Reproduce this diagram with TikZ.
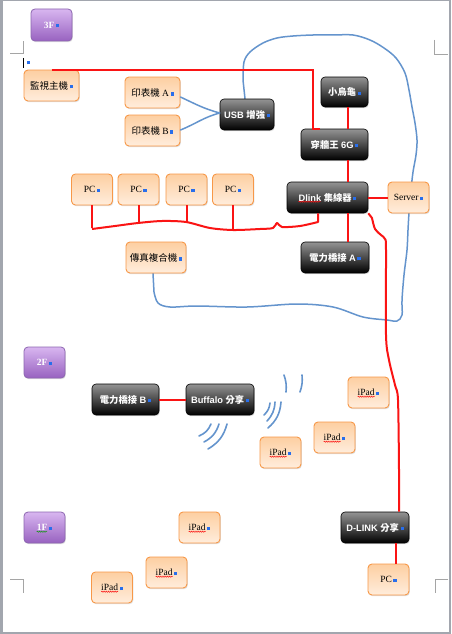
\documentclass[tikz,border=0pt]{standalone}
\usepackage{fontspec}
\setmainfont{Liberation Serif}
\newfontfamily\cjk{Noto Sans CJK TC}
\newfontfamily\lsans{Liberation Sans}
\usetikzlibrary{shadows,decorations.pathmorphing}

\definecolor{pagegray}{RGB}{162,166,174}
\definecolor{cropgray}{RGB}{165,165,165}
\definecolor{linkred}{RGB}{250,20,20}
\definecolor{wireblue}{RGB}{100,148,205}
\definecolor{markblue}{RGB}{40,110,235}
\definecolor{peachtop}{RGB}{253,207,162}
\definecolor{peachbot}{RGB}{255,237,220}
\definecolor{peachline}{RGB}{247,152,72}
\definecolor{lilactop}{RGB}{216,182,240}
\definecolor{lilacbot}{RGB}{152,98,192}
\definecolor{lilacline}{RGB}{140,102,176}
\definecolor{spellgreen}{RGB}{20,150,20}

\newcommand\mk{\hspace{1.5pt}\textcolor{markblue}{\rule[0.6pt]{3.2pt}{3.4pt}}}

\pgfdeclarelayer{paper}
\pgfdeclarelayer{back}
\pgfsetlayers{paper,back,main}

\begin{document}
\begin{tikzpicture}[x=1pt,y=-1pt,
  box/.style={rounded corners=4pt, minimum height=31pt, inner sep=1pt,
    drop shadow={shadow xshift=0.8pt, shadow yshift=-1.2pt, opacity=0.25}},
  peach/.style={box, draw=peachline, line width=0.9pt, top color=peachtop,
    bottom color=peachbot, font=\fontsize{9.5}{11}\selectfont},
  dark/.style={box, draw=black, line width=0.6pt, top color=black!42,
    bottom color=black, text=white, font=\lsans\bfseries\fontsize{9.3}{11}\selectfont},
  lilac/.style={box, draw=lilacline, line width=0.8pt, top color=lilactop,
    bottom color=lilacbot, text=white, font=\bfseries\fontsize{9.5}{11}\selectfont},
  redwire/.style={color=linkred, line width=2pt},
  bluewire/.style={color=wireblue, line width=1.5pt, line cap=round, line join=round},
  wave/.style={color=wireblue, line width=1.6pt, line cap=round},
  squig/.style={color=linkred, line width=0.5pt, decorate,
    decoration={snake, amplitude=0.6pt, segment length=2.2pt}},
  crop/.style={color=cropgray, line width=0.8pt}]

\useasboundingbox (0,0) rectangle (451,634);

% page and crop marks
\begin{pgfonlayer}{paper}
\fill[pagegray] (0,0) rectangle (451,634);
\fill[white] (3,1) rectangle (449,632);
\draw[crop] (10,53) -- (23,53) -- (23,41);
\draw[crop] (434,40) -- (434,54) -- (448,54);
\draw[crop] (10,579) -- (23,579) -- (23,593);
\draw[crop] (448,579) -- (435,579) -- (435,593);
\end{pgfonlayer}

% cursor
\draw[black, line width=0.7pt] (23,58) -- (23,68);
\node[inner sep=0pt] (caret) at (27.5,63) {\mk};

%%% 3F
\node[lilac, minimum width=41pt, minimum height=32pt] (floor3) at (51.5,25) {3F\mk};

\node[peach, minimum width=55pt] (monitor) at (51.5,85.5) {{\cjk 監視主機}\mk};
\node[peach, minimum width=55pt] (printA) at (152.5,92.5) {{\cjk 印表機} A\mk};
\node[peach, minimum width=55pt] (printB) at (152.5,130.5) {{\cjk 印表機} B\mk};
\node[dark, minimum width=54pt] (usb) at (247,114.5) {USB {\cjk 增強}\mk};

\node[dark, minimum width=47pt, minimum height=30pt] (turtle) at (344.5,92) {{\cjk 小烏龜}\mk};
\node[dark, minimum width=67pt] (wall) at (334.5,144.5) {{\cjk 穿牆王} 6G\mk};
\node[dark, minimum width=81pt] (hub) at (327.5,197.5) {Dlink {\cjk 集線器}\mk};
\node[peach, minimum width=41pt] (server) at (408.5,197.5) {Server\mk};

\foreach \x/\n in {92/1,138.5/2,186.5/3,233/4}
  \node[peach, minimum width=41pt] (pc\n) at (\x,189.5) {PC\mk};

\node[peach, minimum width=60pt] (fax) at (156,257.5) {{\cjk 傳真複合機}\mk};
\node[dark, minimum width=68pt] (plcA) at (335,257.5) {{\cjk 電力橋接} A\mk};

%%% 2F
\node[lilac, minimum width=41pt] (floor2) at (44.5,362.5) {2F\mk};
\node[dark, minimum width=67pt] (plcB) at (125.5,399.5) {{\cjk 電力橋接} B\mk};
\node[dark, minimum width=68pt] (buffalo) at (220,399.5) {Buffalo {\cjk 分享}\mk};

\foreach \x/\y/\n in {368.5/392.5/1,334.5/437.5/2,280.5/452.5/3,199.5/527.5/4,166.5/572.5/5,112/587.5/6}{
  \node[peach, minimum width=41pt] (ipad\n) at (\x,\y) {iPad\mk};
  \draw[squig] ([xshift=-10.8pt,yshift=-4.2pt]ipad\n.center) -- ++(17,0);
}

%%% 1F
\node[lilac, minimum width=41pt] (floor1) at (44.5,527.5) {1F\mk};
\draw[squig, color=spellgreen] ([xshift=-7.8pt,yshift=-4.2pt]floor1.center) -- ++(10.5,0);
\draw[squig] ([xshift=-29pt,yshift=-4.2pt]hub.center) -- ++(22,0);

\node[dark, minimum width=68pt] (dshare) at (375,527.5) {D-LINK {\cjk 分享}\mk};
\node[peach, minimum width=41pt] (pc5) at (388.5,579.5) {PC\mk};

% red cables
\draw[redwire] (monitor.north) -- (monitor.north -| wall.north west) -- ++(12,0) -- ([xshift=12pt]wall.north west) -- ([xshift=19pt]wall.north west);
\draw[redwire] ([xshift=3.5pt]turtle.south) -- ([xshift=3.5pt]turtle.south |- wall.north);
\draw[redwire] ([xshift=13.5pt]wall.south) -- ([xshift=13.5pt]wall.south |- hub.north);
\draw[redwire] (hub.east) -- (server.west);
\draw[redwire] ([xshift=13pt]plcA.north |- hub.south) -- ([xshift=13pt]plcA.north);
\draw[redwire] (plcB.east) -- (buffalo.west);
\draw[redwire] ([xshift=21pt]dshare.south) -- ([xshift=7.5pt]pc5.north);

\foreach \n/\d in {1/23,2/18,3/17,4/25}
  \draw[redwire] (pc\n.south) -- ++(0,\d);
\draw[redwire, line join=round] plot[smooth, tension=.5] coordinates {(92,229) (115,226) (138,223) (162,221)
  (186,222) (210,228) (233,230) (260,229) (273,228) (277,223) (282,227) (300,226) (318,222)}
  -- ([xshift=-9.5pt]hub.south);

\draw[redwire, line join=round] (hub.south east) -- plot[smooth, tension=.5] coordinates {(372,218) (375,229)
  (381,235) (385,239) (386,250) (386,335) (389,360) (395,385) (398,400) (399,470)}
  -- ([xshift=24pt]dshare.north);

% blue cables
\draw[bluewire] ([yshift=-4.5pt]printA.east) to[out=-25,in=165] ([yshift=1.5pt]usb.west);
\draw[bluewire] ([yshift=0.5pt]printB.east) to[out=22,in=195] ([yshift=1.5pt]usb.west);

\begin{pgfonlayer}{back}
\draw[bluewire] ([xshift=-2pt]usb.north) -- plot[smooth, tension=.55] coordinates {(243,80) (244,62)
  (250,52) (263,43) (277,38) (293,36) (313,35) (333,35) (353,35) (370,40) (384,48) (396,58)
  (405,73) (409,90) (412,107) (415,123) (417,140) (416,155) (413,172) (411,190) (409,213)
  (408,230) (407,250) (404,275) (402,300) (402,315) (397,321) (387,320) (363,317) (333,307)
  (297,304) (247,307) (197,306) (170,307) (158,303) (154,292)} -- ([xshift=-3pt]fax.south);
\end{pgfonlayer}

% wifi
\draw[wave] (211,424) to[bend left=22] (199,436);
\draw[wave] (219,424) to[bend left=22] (204,442);
\draw[wave] (227,424) to[bend left=22] (208,449);
\draw[wave] (270,403) to[bend left=20] (264,415);
\draw[wave] (275,402) to[bend left=20] (267,421);
\draw[wave] (281,402) to[bend left=22] (268,428);
\draw[wave] (284,375) to[bend left=12] (286,392);
\draw[wave] (302,375) to[bend left=12] (300,392);

\end{tikzpicture}
\end{document}
